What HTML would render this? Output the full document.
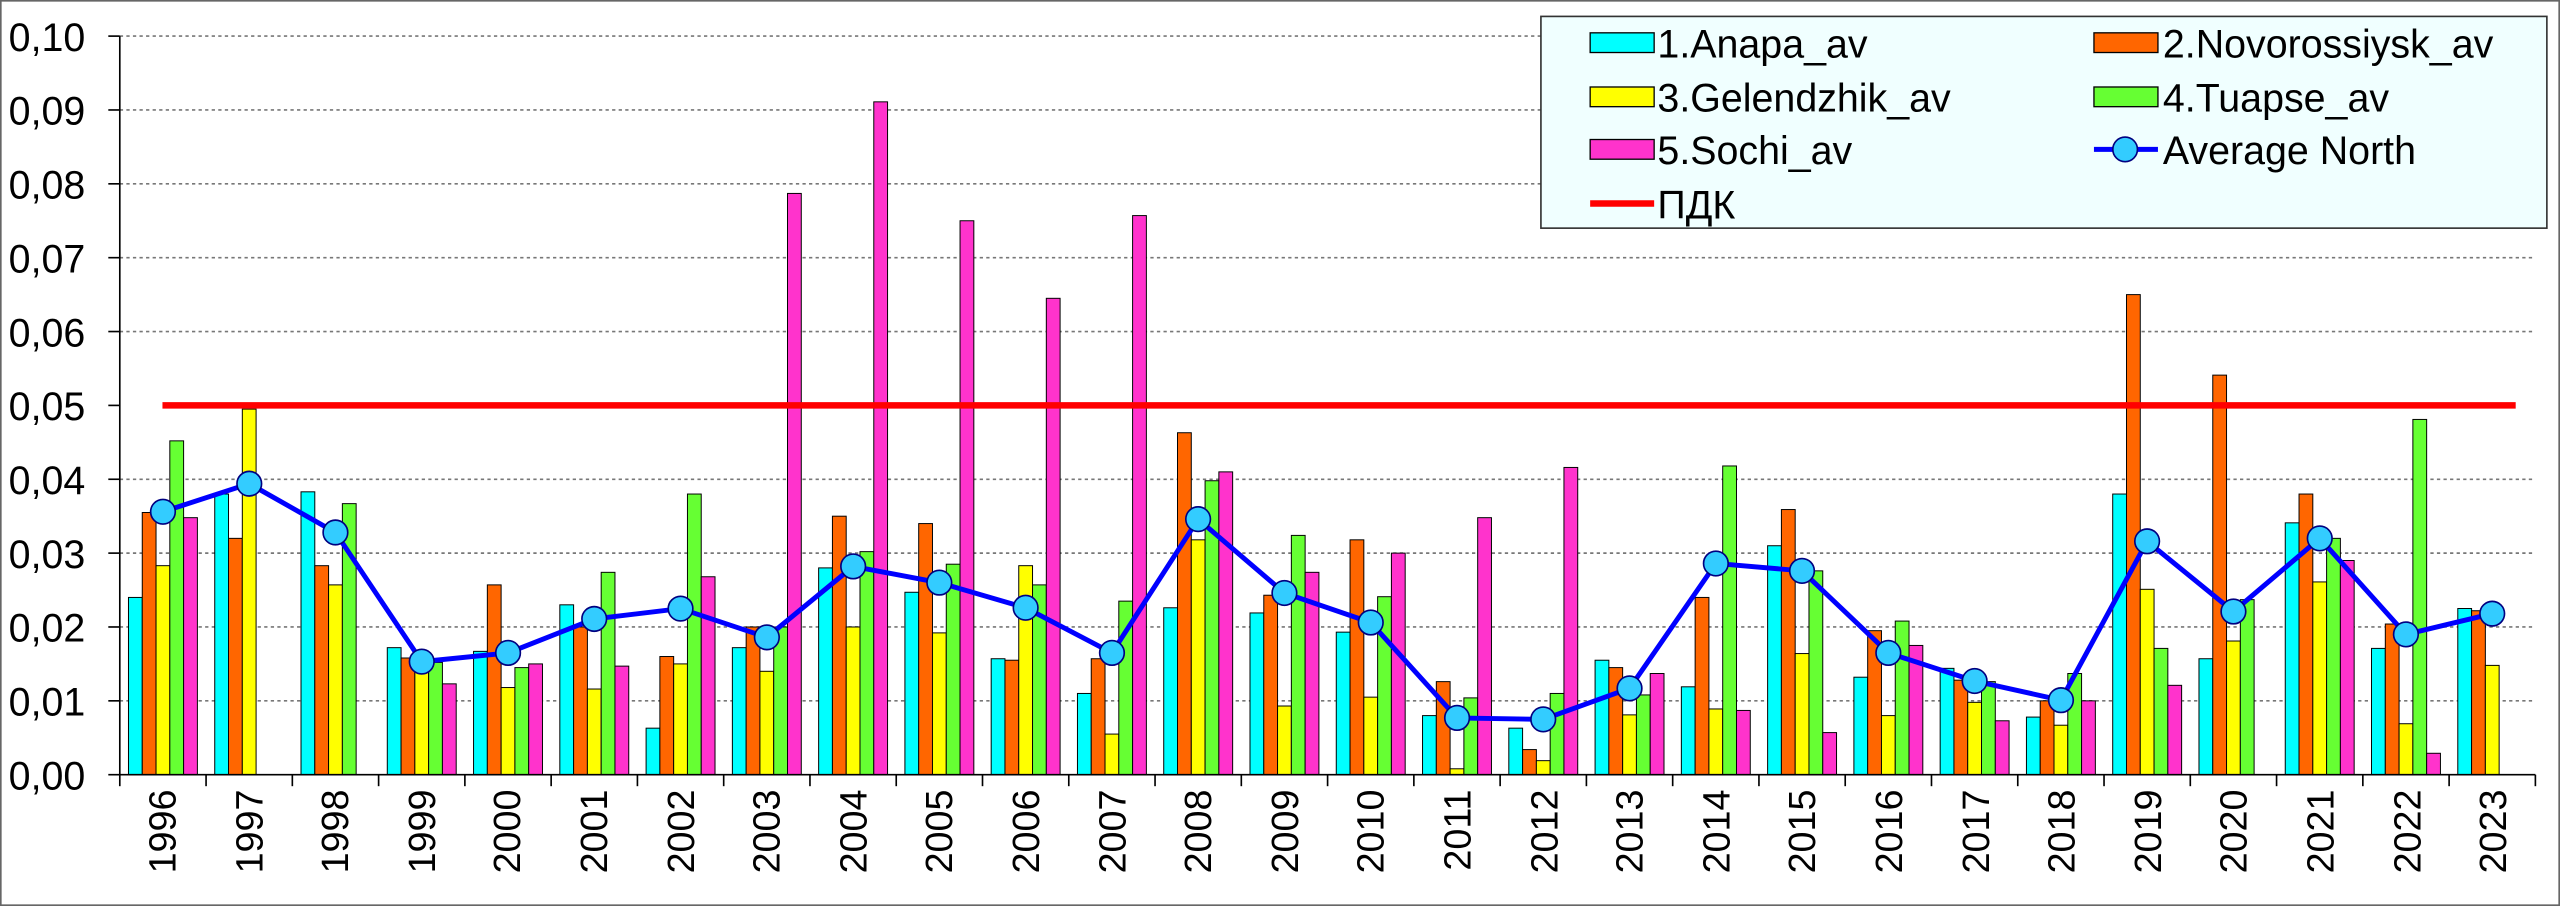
<!DOCTYPE html>
<html><head><meta charset="utf-8"><style>
html,body{margin:0;padding:0;background:#fff}
svg{display:block}
text{font-family:"Liberation Sans",sans-serif}
</style></head><body>
<svg id="s" width="2560" height="906" viewBox="0 0 1560 552" preserveAspectRatio="none" xmlns="http://www.w3.org/2000/svg">
<rect x="0.5" y="0.5" width="1559" height="551" fill="#fff" stroke="#666" stroke-width="1"/>
<g id="grid"></g>
<g id="bars"></g>
<line x1="73" y1="22" x2="73" y2="472" stroke="#000" stroke-width="1"/>
<line x1="73" y1="472" x2="1545" y2="472" stroke="#000" stroke-width="1"/>
<g id="ticks"></g>
<line x1="99" y1="247" x2="1533" y2="247" stroke="#ff0000" stroke-width="4"/>
<g id="avg"></g>
<g font-size="24" text-anchor="end" fill="#000">
<text x="52" y="31">0,10</text><text x="52" y="76">0,09</text><text x="52" y="121">0,08</text><text x="52" y="166">0,07</text><text x="52" y="211">0,06</text><text x="52" y="256">0,05</text><text x="52" y="301">0,04</text><text x="52" y="346">0,03</text><text x="52" y="391">0,02</text><text x="52" y="436">0,01</text><text x="52" y="481">0,00</text>
</g>
<g font-size="23" text-anchor="end" fill="#000" id="years">
<text transform="translate(107,481) rotate(-90)">1996</text>
<text transform="translate(160,481) rotate(-90)">1997</text>
<text transform="translate(212,481) rotate(-90)">1998</text>
<text transform="translate(265,481) rotate(-90)">1999</text>
<text transform="translate(317,481) rotate(-90)">2000</text>
<text transform="translate(370,481) rotate(-90)">2001</text>
<text transform="translate(423,481) rotate(-90)">2002</text>
<text transform="translate(475,481) rotate(-90)">2003</text>
<text transform="translate(528,481) rotate(-90)">2004</text>
<text transform="translate(580,481) rotate(-90)">2005</text>
<text transform="translate(633,481) rotate(-90)">2006</text>
<text transform="translate(686,481) rotate(-90)">2007</text>
<text transform="translate(738,481) rotate(-90)">2008</text>
<text transform="translate(791,481) rotate(-90)">2009</text>
<text transform="translate(843,481) rotate(-90)">2010</text>
<text transform="translate(896,481) rotate(-90)">2011</text>
<text transform="translate(949,481) rotate(-90)">2012</text>
<text transform="translate(1001,481) rotate(-90)">2013</text>
<text transform="translate(1054,481) rotate(-90)">2014</text>
<text transform="translate(1106,481) rotate(-90)">2015</text>
<text transform="translate(1159,481) rotate(-90)">2016</text>
<text transform="translate(1212,481) rotate(-90)">2017</text>
<text transform="translate(1264,481) rotate(-90)">2018</text>
<text transform="translate(1317,481) rotate(-90)">2019</text>
<text transform="translate(1369,481) rotate(-90)">2020</text>
<text transform="translate(1422,481) rotate(-90)">2021</text>
<text transform="translate(1475,481) rotate(-90)">2022</text>
<text transform="translate(1527,481) rotate(-90)">2023</text>
</g>
<g>
<rect x="939" y="10" width="613" height="129" fill="#f0ffff" stroke="#333" stroke-width="1"/>
<g stroke="#000" stroke-width="0.8">
<rect x="969" y="20" width="39" height="12" fill="#00ffff"/>
<rect x="1276" y="20" width="39" height="12" fill="#ff6600"/>
<rect x="969" y="53" width="39" height="12" fill="#ffff00"/>
<rect x="1276" y="53" width="39" height="12" fill="#66ff33"/>
<rect x="969" y="85" width="39" height="12" fill="#ff33cc"/>
</g>
<line x1="1276" y1="91" x2="1315" y2="91" stroke="#0000ff" stroke-width="3"/>
<circle cx="1295" cy="91" r="7.5" fill="#33ccff" stroke="#000080" stroke-width="1"/>
<line x1="969" y1="124" x2="1008" y2="124" stroke="#ff0000" stroke-width="4"/>
<g font-size="24" fill="#000">
<text x="1010" y="35">1.Anapa_av</text>
<text x="1318" y="35">2.Novorossiysk_av</text>
<text x="1010" y="68">3.Gelendzhik_av</text>
<text x="1318" y="68">4.Tuapse_av</text>
<text x="1010" y="100">5.Sochi_av</text>
<text x="1318" y="100">Average North</text>
<text x="1010" y="133">ПДК</text>
</g>
</g>
</svg>
<script>
var NS="http://www.w3.org/2000/svg";
function el(p,t,a){var e=document.createElementNS(NS,t);for(var k in a)e.setAttribute(k,a[k]);document.getElementById(p).appendChild(e);return e;}
for(var i=1;i<=10;i++){var y=472-45*i;if(i!=5)el("grid","line",{x1:73,y1:y,x2:1545,y2:y,stroke:"#777","stroke-width":1,"stroke-dasharray":"2,2"});}
for(var i=0;i<=10;i++){var y=472-45*i;el("ticks","line",{x1:66,y1:y,x2:73,y2:y,stroke:"#000","stroke-width":1});}
var X0=73,W=(1545-73)/28;
for(var i=0;i<=28;i++){var x=X0+W*i;el("ticks","line",{x1:x,y1:472,x2:x,y2:479,stroke:"#000","stroke-width":1});}
var D=[
[.024,.0355,.0283,.0452,.0348,.0356],[.038,.032,.0495,0,0,.0394],[.0383,.0283,.0257,.0367,0,.0328],
[.0172,.0158,.0142,.0152,.0123,.0153],[.0167,.0257,.0118,.0145,.015,.0165],[.023,.020,.0116,.0274,.0147,.0211],
[.0063,.016,.015,.038,.0268,.0225],[.0172,.020,.014,.020,.0787,.0186],[.028,.035,.020,.0302,.0911,.0282],
[.0247,.034,.0192,.0285,.075,.026],[.0157,.0155,.0283,.0257,.0645,.0226],[.011,.0157,.0055,.0235,.0757,.0165],
[.0226,.0463,.0318,.0398,.041,.0346],[.0219,.0243,.0093,.0324,.0274,.0246],[.0193,.0318,.0105,.0241,.030,.0206],
[.008,.0126,.0008,.0104,.0348,.0077],[.0063,.0034,.0019,.011,.0416,.0075],[.0155,.0145,.0081,.0108,.0137,.0117],
[.0119,.024,.0089,.0418,.0087,.0286],[.031,.0359,.0164,.0276,.0057,.0276],[.0132,.0195,.008,.0208,.0175,.0165],
[.0144,.0128,.0098,.0126,.0073,.0127],[.0078,.010,.0067,.0137,.010,.0101],[.038,.065,.0251,.0171,.0121,.0316],
[.0157,.0541,.0181,.0237,0,.0221],[.0341,.038,.0261,.032,.029,.032],[.0171,.0204,.0069,.0481,.0029,.019],
[.0225,.0222,.0148,0,0,.0218]];
var C=["#00ffff","#ff6600","#ffff00","#66ff33","#ff33cc"];
var bw=8.4,off=(W-5*bw)/2,pts=[];
D.forEach(function(r,i){var gx=X0+W*i;for(var j=0;j<5;j++){if(!r[j])continue;var h=r[j]*4500;
el("bars","rect",{x:gx+off+j*bw,y:472-h,width:bw,height:h,fill:C[j],stroke:"#000","stroke-width":0.6});}
pts.push((gx+W/2).toFixed(1)+","+(472-r[5]*4500).toFixed(1));});
el("avg","polyline",{points:pts.join(" "),fill:"none",stroke:"#0000ff","stroke-width":3});
pts.forEach(function(p){var a=p.split(",");el("avg","circle",{cx:a[0],cy:a[1],r:7.5,fill:"#33ccff",stroke:"#000080","stroke-width":1});});
</script>
</body></html>
